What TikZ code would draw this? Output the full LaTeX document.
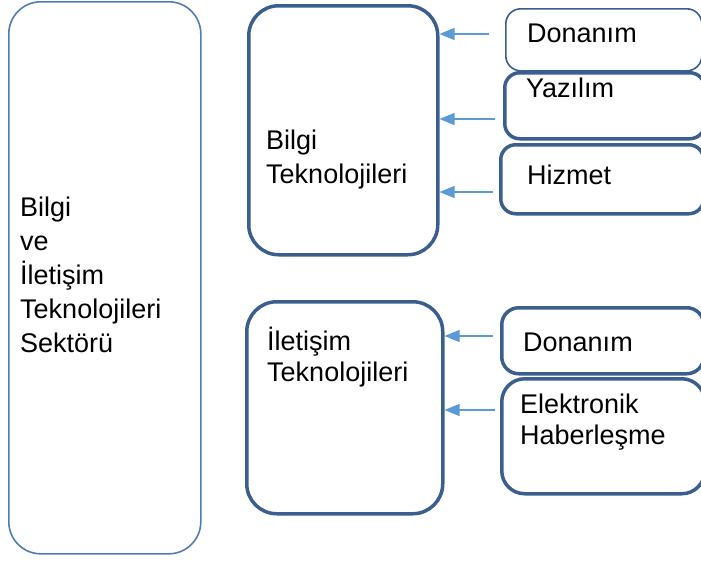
\documentclass[tikz,border=0pt]{standalone}
\usepackage{fontspec}
\setmainfont{Liberation Sans}
\usetikzlibrary{arrows.meta}
\definecolor{boxblue}{HTML}{3A5F8F}
\definecolor{sideblue}{HTML}{4F7DB3}
\definecolor{arrowblue}{HTML}{5B9BD5}
\tikzset{
	thickbox/.style={draw=boxblue, line width=3.5pt, anchor=north west, inner sep=0pt},
	thinbox/.style={draw=#1, line width=1.6pt, anchor=north west, inner sep=0pt},
	txt/.style={anchor=west, align=left, inner sep=0pt},
	feed/.style={draw=arrowblue, line width=1.2pt, -{Triangle[length=15pt,width=12pt]}}
}
\begin{document}
\begin{tikzpicture}[x=1pt, y=-1pt, font=\fontsize{27}{34}\selectfont]
			\useasboundingbox (0,0) rectangle (701,560);
			\node[thinbox=sideblue, rounded corners=32pt, minimum width=192pt, minimum height=552pt] (sektor) at (8,1) {};
			\node[thickbox, rounded corners=30pt, minimum width=189pt, minimum height=249pt] (bt) at (247,4) {};
			\node[thickbox, rounded corners=30pt, minimum width=196pt, minimum height=212pt] (it) at (245,300) {};
			\node[thinbox=boxblue, rounded corners=15pt, minimum width=196pt, minimum height=62pt] (donanim1) at (505,8) {};
			\node[thickbox, rounded corners=15pt, minimum width=200pt, minimum height=66pt] (yazilim) at (503,71) {};
			\node[thickbox, rounded corners=15pt, minimum width=203pt, minimum height=69pt] (hizmet) at (499,143) {};
			\node[thickbox, rounded corners=17pt, minimum width=202pt, minimum height=66pt] (donanim2) at (500,306) {};
			\node[thickbox, rounded corners=23pt, minimum width=203pt, minimum height=115pt] (haber) at (500,377) {};
			\node[txt] (sektor-t) at (20,275) {Bilgi\\ve\\İletişim\\Teknolojileri\\Sektörü};
			\node[txt] (bt-t) at (266,160) {Bilgi\\Teknolojileri};
			\node[txt, font=\fontsize{27}{31}\selectfont] (it-t) at (267,357) {İletişim\\Teknolojileri};
			\node[txt] (donanim1-t) at (527,33) {Donanım};
			\node[txt] (yazilim-t) at (526,88) {Yazılım};
			\node[txt] (hizmet-t) at (527,175) {Hizmet};
			\node[txt] (donanim2-t) at (523,342) {Donanım};
			\node[txt, font=\fontsize{27}{31}\selectfont] (haber-t) at (520,422) {Elektronik\\Haberleşme};
			\foreach \n\x\y\t in {a1/489/34/bt, a2/495/119/bt, a3/493/192/bt, a4/493/336/it, a5/495/410/it}{
				\coordinate (\n) at (\x,\y);
				\draw[feed] (\n) -- (\n -| \t.east);
			}
		\end{tikzpicture}
\end{document}
